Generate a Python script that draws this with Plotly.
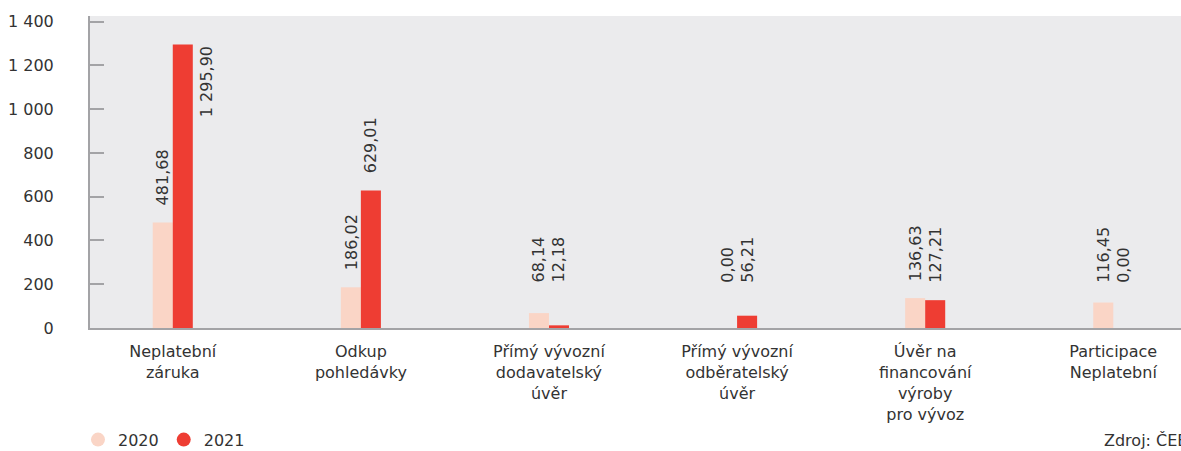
import plotly.graph_objects as go

# Product categories (x axis)
categories = [
    "Neplatební<br>záruka",
    "Odkup<br>pohledávky",
    "Přímý vývozní<br>dodavatelský<br>úvěr",
    "Přímý vývozní<br>odběratelský<br>úvěr",
    "Úvěr na<br>financování<br>výroby<br>pro vývoz",
    "Participace<br>Neplatební",
]
years = ["2020", "2021"]
values_2020 = [481.68, 186.02, 68.14, 0.00, 136.63, 116.45]
values_2021 = [1295.90, 629.01, 12.18, 56.21, 127.21, 0.00]

y_ticks = [0, 200, 400, 600, 800, 1000, 1200, 1400]
y_tick_labels = ["0", "200", "400", "600", "800", "1 000", "1 200", "1 400"]

COLOR_2020 = "#FAD5C6"
COLOR_2021 = "#EE3D33"
TEXT = "#333333"
AXIS = "#A3A3A6"
BG = "#EBEBED"
FONT = "DejaVu Sans"


def fmt(v):
    s = f"{v:,.2f}"
    return s.replace(",", " ").replace(".", ",")


fig = go.Figure()
for name, vals, col in [("2020", values_2020, COLOR_2020),
                        ("2021", values_2021, COLOR_2021)]:
    fig.add_trace(go.Bar(x=categories, y=vals, name=name, marker_color=col,
                         marker_line_width=0, showlegend=False))
    # circular legend markers
    fig.add_trace(go.Scatter(x=[None], y=[None], mode="markers", name=name,
                             marker=dict(color=col, size=14, symbol="circle")))

# rotated value labels
LABEL_FLOOR = 130
annotations = []
for vals, off in [(values_2020, -10), (values_2021, 10)]:
    for cat, v in zip(categories, vals):
        if v > 1200:
            # tall bar: label beside the bar, aligned with its top
            annotations.append(dict(x=cat, y=v, xref="x", yref="y", text=fmt(v),
                                    textangle=-90, showarrow=False,
                                    xanchor="left", yanchor="top",
                                    xshift=off + 13, yshift=0,
                                    font=dict(size=16, color=TEXT, family=FONT)))
        else:
            annotations.append(dict(x=cat, y=max(v, LABEL_FLOOR), xref="x", yref="y",
                                    text=fmt(v), textangle=-90, showarrow=False,
                                    xanchor="center", yanchor="bottom",
                                    xshift=off, yshift=15,
                                    font=dict(size=16, color=TEXT, family=FONT)))

# source note (paper coordinates)
annotations.append(dict(text="Zdroj: ČEB", x=(1102 - 90) / 1091, y=-0.36,
                        xref="paper", yref="paper",
                        showarrow=False, xanchor="left", yanchor="middle",
                        font=dict(size=16, color=TEXT, family=FONT)))

fig.update_layout(
    width=1181, height=451,
    margin=dict(l=90, r=0, t=16, b=123, autoexpand=False),
    paper_bgcolor="white",
    plot_bgcolor=BG,
    barmode="group",
    bargap=0.787,
    bargroupgap=0,
    font=dict(family=FONT, size=16, color=TEXT),
    showlegend=True,
    legend=dict(orientation="h", x=-0.011, y=-0.358, xanchor="left", yanchor="middle",
                font=dict(size=16, color=TEXT, family=FONT),
                itemwidth=30, tracegroupgap=0, bgcolor="rgba(0,0,0,0)"),
    annotations=annotations,
    xaxis=dict(type="category", range=[-0.44, 5.36], showgrid=False,
               showline=True, linecolor=AXIS, linewidth=2, ticks="",
               tickfont=dict(size=16, color=TEXT, family=FONT),
               ticklabelstandoff=8, automargin=False),
    yaxis=dict(range=[0, 1426], tickvals=y_ticks, ticktext=y_tick_labels,
               showgrid=False, zeroline=False, showline=True, linecolor=AXIS,
               linewidth=2, ticks="inside", ticklen=14, tickcolor=AXIS,
               tickwidth=1.5, tickfont=dict(size=16, color=TEXT, family=FONT),
               ticklabelstandoff=31, automargin=False),
)

fig.write_html("out.html")
